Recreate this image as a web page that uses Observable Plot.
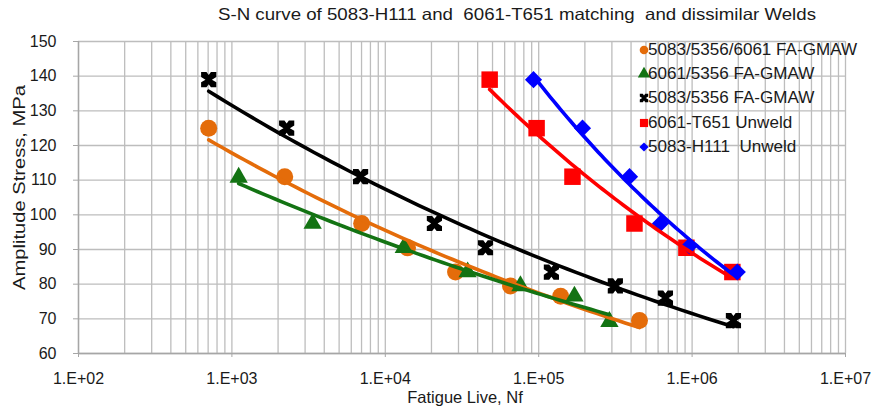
<!DOCTYPE html>
<html>
<head>
<meta charset="utf-8">
<script src="https://cdn.jsdelivr.net/npm/d3@7"></script>
<script src="https://cdn.jsdelivr.net/npm/@observablehq/plot@0.6"></script>
<style>
  html, body { margin: 0; padding: 0; background: #fff; }
  #wrap { position: relative; width: 874px; height: 415px; font-family: "Liberation Sans", Arial, sans-serif; color: #1a1a1a; }
  #title { position: absolute; left: 218px; top: 5px; font-size: 16.5px; line-height: 18px; white-space: pre; transform-origin: 0 50%; }
  .lg { position: absolute; left: 639px; height: 18px; line-height: 18px; font-size: 16px; white-space: pre; display: flex; align-items: center; }
  .lg svg { width: 10px; height: 10px; overflow: visible; margin-right: -1px; flex: none; }
  .lg span { display: inline-block; transform-origin: 0 50%; }
</style>
</head>
<body>
<div id="wrap">
  <div id="chart"></div>
  <div id="title"><span id="titleText">S-N curve of 5083-H111 and  6061-T651 matching  and dissimilar Welds</span></div>
  <div id="legend"></div>
</div>
<script>
// ---- Data ----
const xTickValues = [1e2, 1e3, 1e4, 1e5, 1e6, 1e7];
const yTickValues = [60, 70, 80, 90, 100, 110, 120, 130, 140, 150];

const seriesNames = [
  "5083/5356/6061 FA-GMAW",
  "6061/5356 FA-GMAW",
  "5083/5356 FA-GMAW",
  "6061-T651 Unweld",
  "5083-H111  Unweld"
];

const orangeN = [706, 2210, 7010, 13960, 28700, 65500, 139000, 454000];
const orangeS = [125, 111, 97.5, 90.5, 83.5, 79.5, 76.5, 69.5];

const greenN = [1107, 3360, 13200, 34400, 76000, 171000, 289000];
const greenS = [110.8, 97.5, 90.5, 83.5, 79.5, 76.5, 69.2];

const blackN = [706, 2275, 6900, 20900, 45000, 121000, 316000, 670000, 1860000];
const blackS = [139, 125, 111, 97.5, 90.5, 83.5, 79.5, 76, 69.5];

const redN = [47900, 96900, 166000, 421000, 918000, 1830000];
const redS = [139, 125, 111, 97.5, 90.5, 83.5];

const blueN = [92500, 193000, 391000, 622000, 961000, 1970000];
const blueS = [139, 125, 111, 97.5, 91, 83.5];

// ---- Styling ----
const colors = ["#E46C0A", "#137313", "#000000", "#FF0000", "#0000FF"];

// custom "x / hourglass" marker like Excel's
const xMark = {
  draw(ctx, size) {
    const s = Math.sqrt(size / Math.PI);
    const w = s * 0.65;
    ctx.moveTo(-s, -s);
    ctx.lineTo(-w * 0.45, -s);
    ctx.lineTo(0, -s + w * 0.6);
    ctx.lineTo(w * 0.45, -s);
    ctx.lineTo(s, -s);
    ctx.lineTo(s, -s + w);
    ctx.lineTo(w * 0.65, 0);
    ctx.lineTo(s, s - w);
    ctx.lineTo(s, s);
    ctx.lineTo(w * 0.45, s);
    ctx.lineTo(0, s - w * 0.6);
    ctx.lineTo(-w * 0.45, s);
    ctx.lineTo(-s, s);
    ctx.lineTo(-s, s - w);
    ctx.lineTo(-w * 0.65, 0);
    ctx.lineTo(-s, -s + w);
    ctx.closePath();
  }
};
const diamondMark = {
  draw(ctx, size) {
    const s = Math.sqrt(size / Math.PI) * 1.1;
    ctx.moveTo(0, -s); ctx.lineTo(s, 0); ctx.lineTo(0, s); ctx.lineTo(-s, 0); ctx.closePath();
  }
};

const symbols = [d3.symbolCircle, d3.symbolTriangle, xMark, d3.symbolSquare, diamondMark];
const radii = [8.5, 6.8, 7.6, 9.3, 7.8];
const legendR = [4.3, 4.6, 4.2, 4.6, 4.2];

const raw = [
  [orangeN, orangeS], [greenN, greenS], [blackN, blackS], [redN, redS], [blueN, blueS]
];
const table = raw.map(([ns, ss], i) => ns.map((n, j) => ({ series: seriesNames[i], n, s: ss[j] })));

// Power-law trendline (Excel style): least squares fit of ln S on ln N
function powerFit(rows) {
  const lx = rows.map(d => Math.log(d.n)), ly = rows.map(d => Math.log(d.s));
  const mx = d3.mean(lx), my = d3.mean(ly);
  const b = d3.sum(lx, (v, i) => (v - mx) * (ly[i] - my)) / d3.sum(lx, v => (v - mx) ** 2);
  const a = my - b * mx;
  const [x0, x1] = d3.extent(lx);
  return d3.range(61).map(k => {
    const x = x0 + (x1 - x0) * k / 60;
    return { n: Math.exp(x), s: Math.exp(a + b * x) };
  });
}
const fits = table.map(powerFit);

// minor gridlines
const xGrid = [];
for (let e = 2; e < 7; e++) for (let m = 1; m < 10; m++) xGrid.push(m * 10 ** e);
xGrid.push(1e7);

const fmt = d => "1.E+" + String(Math.round(Math.log10(d))).padStart(2, "0");

const marks = [
  Plot.ruleX(xGrid, { stroke: "#bdbdbd", strokeWidth: 1.3 }),
  Plot.ruleY(yTickValues, { stroke: "#bdbdbd", strokeWidth: 1.3 }),
  Plot.ruleY([60], { stroke: "#a6a6a6", strokeWidth: 1.4 }),
  Plot.ruleX([1e2], { stroke: "#a6a6a6", strokeWidth: 1.4 }),
  Plot.axisX({ ticks: xTickValues, tickFormat: fmt, tickSize: 4, tickPadding: 15, label: null, stroke: "#a6a6a6", fill: "#1a1a1a" }),
  Plot.axisY({ ticks: yTickValues, tickSize: 5, tickPadding: 17, label: null, stroke: "#a6a6a6", fill: "#1a1a1a" }),
];
table.forEach((rows, i) => {
  marks.push(Plot.dot(rows, { x: "n", y: "s", symbol: symbols[i], r: radii[i], fill: colors[i], stroke: "none" }));
});
fits.forEach((rows, i) => {
  marks.push(Plot.line(rows, { x: "n", y: "s", stroke: colors[i], strokeWidth: 3.6 }));
});
marks.push(
  Plot.text(["Fatigue Live, Nf"], { frameAnchor: "bottom", dy: 49, dx: 3, fontSize: 16.5, fill: "#1a1a1a" }),
  Plot.text(["Amplitude Stress, MPa"], { frameAnchor: "left", textAnchor: "middle", dx: -59, dy: -10, rotate: -90, fontSize: 16.5, fill: "#1a1a1a" })
);

const chart = Plot.plot({
  width: 874,
  height: 415,
  marginLeft: 78,
  marginRight: 29,
  marginTop: 41,
  marginBottom: 62,
  x: { type: "log", domain: [1e2, 1e7] },
  y: { domain: [60, 150] },
  style: { fontFamily: "'Liberation Sans', Arial, sans-serif", fontSize: "16px", background: "white", color: "#1a1a1a" },
  marks
});
document.getElementById("chart").appendChild(chart);

// stretch the y-axis label to the reference's length
chart.querySelectorAll("text").forEach(t => {
  if (t.textContent === "Amplitude Stress, MPa") {
    t.setAttribute("textLength", 205);
    t.setAttribute("lengthAdjust", "spacingAndGlyphs");
  }
});

// title width to match reference
const tt = document.getElementById("titleText");
tt.style.display = "inline-block";
const tw = tt.getBoundingClientRect().width;
tt.style.transformOrigin = "0 50%";
tt.style.transform = `scaleX(${598 / tw})`;

// legend (HTML overlay)
const rowCenters = [50, 74.3, 98, 123.3, 147];
const legend = document.getElementById("legend");
const spans = [];
seriesNames.forEach((name, i) => {
  const row = document.createElement("div");
  row.className = "lg";
  row.style.top = (rowCenters[i] - 9) + "px";
  const size = Math.PI * legendR[i] ** 2;
  const path = d3.symbol().type(symbols[i]).size(size)();
  row.innerHTML = `<svg viewBox="-5 -5 10 10"><path d="${path}" fill="${colors[i]}"/></svg><span>${name}</span>`;
  legend.appendChild(row);
  spans.push(row.querySelector("span"));
});
const w0 = spans[0].getBoundingClientRect().width;
const k = 209 / w0;
spans.forEach(s => { s.style.transform = `scaleX(${k})`; });
</script>
</body>
</html>
